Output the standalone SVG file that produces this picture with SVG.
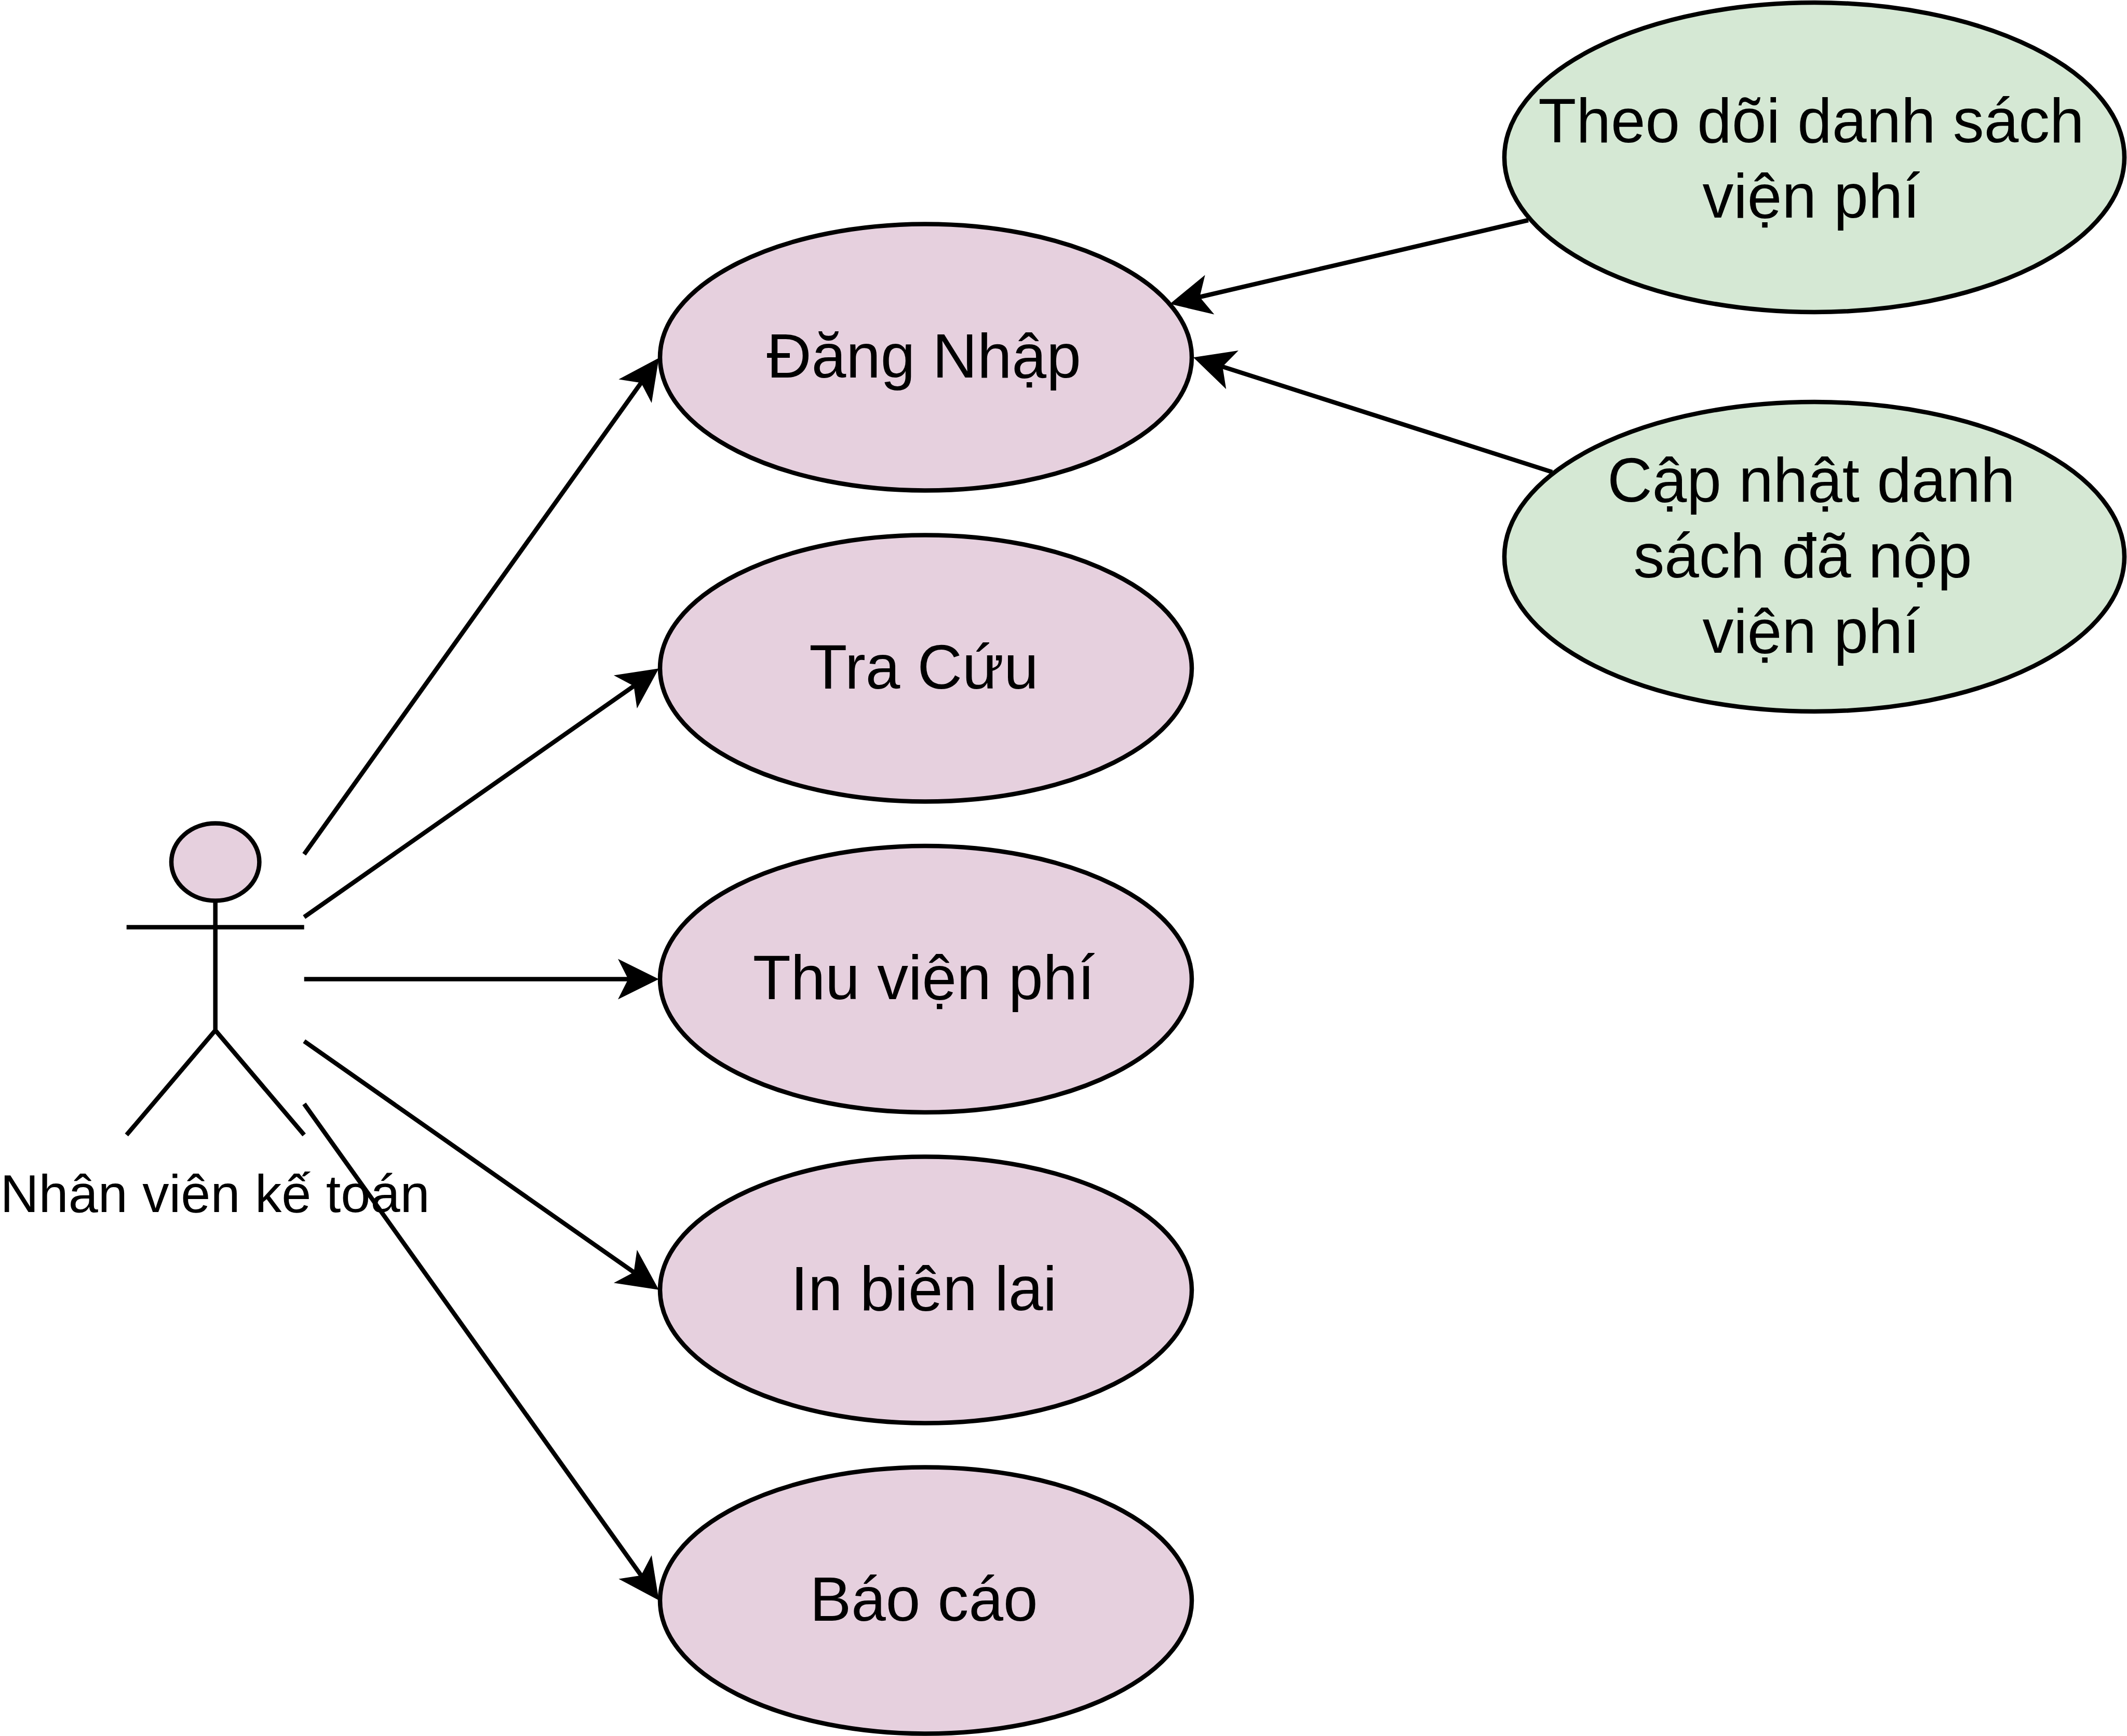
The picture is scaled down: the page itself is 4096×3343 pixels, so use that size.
<svg xmlns="http://www.w3.org/2000/svg" width="4096" height="3343" viewBox="0 0 4096 3343">
<style>
.uc{fill:#e6d0de;stroke:#000;stroke-width:8.5}
.gr{fill:#d5e8d4;stroke:#000;stroke-width:8.5}
.ln{fill:none;stroke:#000;stroke-width:8.5}
.con{fill:none;stroke:#000;stroke-width:8.5;marker-end:url(#arrow)}
text{font-family:"Liberation Sans",Arial,sans-serif;fill:#000;text-anchor:middle}
.t{font-size:119.7px}
.a{font-size:102.6px}
</style>
<defs>
<marker id="arrow" markerUnits="userSpaceOnUse" markerWidth="80" markerHeight="80" viewBox="0 0 80 80" refX="20" refY="40" orient="auto" overflow="visible">
<path d="M0 1 L78.7 40 L0 79 L19.7 40Z" fill="#000"/>
</marker>
</defs>
<rect width="4096" height="3343" fill="#fff"/>
<g id="actor">
<ellipse class="uc" cx="414.7" cy="1660" rx="84.7" ry="74.4"/>
<path class="ln" d="M414.7 1734.4V1984M243.7 1785.5H585.7M243.7 2185.6L414.7 1984L585.7 2185.6"/>
<text class="a" x="414" y="2334">Nhân viên kế toán</text>
</g>
<g id="dang-nhap"><ellipse class="uc" cx="1783" cy="688" rx="512" ry="256.5"/><text class="t" x="1779" y="727">Đăng Nhập</text></g>
<g id="tra-cuu"><ellipse class="uc" cx="1783" cy="1287" rx="512" ry="256.5"/><text class="t" x="1779" y="1325.5">Tra Cứu</text></g>
<g id="thu-vien-phi"><ellipse class="uc" cx="1783" cy="1885.5" rx="512" ry="256.5"/><text class="t" x="1779" y="1924">Thu viện phí</text></g>
<g id="in-bien-lai"><ellipse class="uc" cx="1783" cy="2484" rx="512" ry="256.5"/><text class="t" x="1779" y="2522.5">In biên lai</text></g>
<g id="bao-cao"><ellipse class="uc" cx="1783" cy="3082" rx="512" ry="256.5"/><text class="t" x="1779" y="3121">Báo cáo</text></g>
<g id="theo-doi"><ellipse class="gr" cx="3494" cy="303" rx="597" ry="298"/><text class="t" x="3488" y="273.6">Theo dõi danh sách</text><text class="t" x="3488" y="419">viện phí</text></g>
<g id="cap-nhat"><ellipse class="gr" cx="3494" cy="1072" rx="597" ry="298"/><text class="t" x="3488" y="966.3">Cập nhật danh</text><text class="t" x="3471.5" y="1111.6">sách đã nộp</text><text class="t" x="3488" y="1257">viện phí</text></g>
<g id="connectors">
<line class="con" x1="585.7" y1="1645" x2="1234.7" y2="737"/>
<line class="con" x1="585.7" y1="1766" x2="1220.7" y2="1320.9"/>
<line class="con" x1="585.7" y1="1885.5" x2="1210" y2="1885.5"/>
<line class="con" x1="585.7" y1="2005" x2="1220.7" y2="2450.1"/>
<line class="con" x1="585.7" y1="2125.7" x2="1234.7" y2="3034"/>
<line class="con" x1="2943" y1="424" x2="2310" y2="572"/>
<line class="con" x1="2989" y1="909" x2="2354" y2="706"/>
</g>
</svg>
